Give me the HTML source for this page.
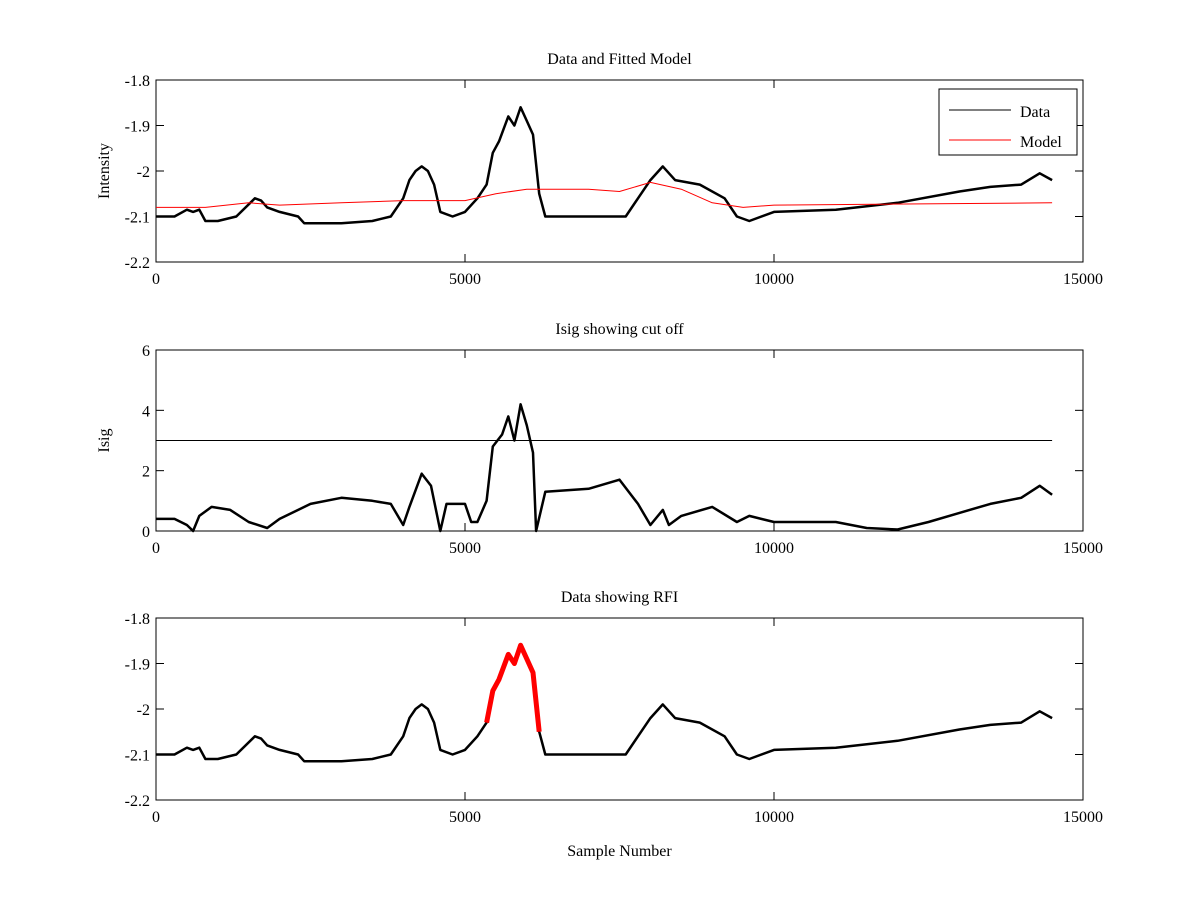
<!DOCTYPE html>
<html><head><meta charset="utf-8"><style>
html,body{margin:0;padding:0;background:#fff;}
svg{display:block;font-family:"Liberation Serif",serif;}
</style></head><body>
<svg id="fig" width="1200" height="900" viewBox="0 0 1200 900"></svg>
<script>
const dataX=[0,300,500,600,700,800,1000,1300,1600,1700,1800,2000,2300,2400,3000,3500,3800,4000,4100,4200,4300,4400,4500,4600,4800,5000,5200,5350,5450,5550,5700,5800,5900,6000,6100,6200,6300,7000,7600,7800,8000,8200,8400,8800,9200,9400,9600,10000,11000,12000,13000,13500,14000,14300,14500];
const dataY=[-2.10,-2.10,-2.085,-2.09,-2.085,-2.11,-2.11,-2.10,-2.06,-2.065,-2.08,-2.09,-2.10,-2.115,-2.115,-2.11,-2.10,-2.06,-2.02,-2.00,-1.99,-2.00,-2.03,-2.09,-2.10,-2.09,-2.06,-2.03,-1.96,-1.935,-1.88,-1.90,-1.86,-1.89,-1.92,-2.05,-2.10,-2.10,-2.10,-2.06,-2.02,-1.99,-2.02,-2.03,-2.06,-2.10,-2.11,-2.09,-2.085,-2.07,-2.045,-2.035,-2.03,-2.005,-2.02];
const modelX=[0,800,1500,2000,3000,4000,5000,5500,6000,7000,7500,8000,8500,9000,9500,10000,14500];
const modelY=[-2.08,-2.08,-2.07,-2.075,-2.07,-2.065,-2.065,-2.05,-2.04,-2.04,-2.045,-2.025,-2.04,-2.07,-2.08,-2.075,-2.07];
const isigX=[0,300,500,600,700,900,1200,1500,1800,2000,2500,3000,3500,3800,4000,4100,4300,4450,4550,4600,4700,5000,5100,5200,5350,5450,5600,5700,5800,5900,6000,6100,6150,6300,7000,7500,7800,8000,8200,8300,8500,9000,9400,9600,10000,11000,11500,12000,12500,13000,13500,14000,14300,14500];
const isigY=[0.4,0.4,0.2,0.0,0.5,0.8,0.7,0.3,0.1,0.4,0.9,1.1,1.0,0.9,0.2,0.8,1.9,1.5,0.5,0.0,0.9,0.9,0.3,0.3,1.0,2.8,3.2,3.8,3.0,4.2,3.5,2.6,0.0,1.3,1.4,1.7,0.9,0.2,0.7,0.2,0.5,0.8,0.3,0.5,0.3,0.3,0.1,0.05,0.3,0.6,0.9,1.1,1.5,1.2];
const cutoff=3;
const rfiStart=5300, rfiEnd=6200;
const xTicks=[0,5000,10000,15000];
const intTicks=[-1.8,-1.9,-2,-2.1,-2.2];
const isigTicks=[0,2,4,6];

const NS="http://www.w3.org/2000/svg";
const svg=document.getElementById('fig');
function mk(tag,attrs,parent){const e=document.createElementNS(NS,tag);for(const k in attrs)e.setAttribute(k,attrs[k]);(parent||svg).appendChild(e);return e;}
const L=156,R=1083;
function makeAxis(top,bot,ymin,ymax,name,title,ylabel,yticks){
  const g=mk('g',{});
  
  
  const sx=v=>L+(v/15000)*(R-L);
  const sy=v=>bot-(v-ymin)/(ymax-ymin)*(bot-top);
  const box=mk('rect',{x:L,y:top,width:R-L,height:bot-top,fill:'#fff',stroke:'#000','stroke-width':1},g);
  
  
  xTicks.forEach(t=>{const x=sx(t);
    mk('line',{x1:x,x2:x,y1:bot,y2:bot-8,stroke:'#000'},g);mk('line',{x1:x,x2:x,y1:top,y2:top+8,stroke:'#000'},g);
    const tx=mk('text',{x:x,y:bot+22,'text-anchor':'middle','font-size':16},g);tx.textContent=t;
    
    });
  yticks.forEach(t=>{const y=sy(t);
    mk('line',{x1:L,x2:L+8,y1:y,y2:y,stroke:'#000'},g);mk('line',{x1:R,x2:R-8,y1:y,y2:y,stroke:'#000'},g);
    const tx=mk('text',{x:L-6,y:y+6,'text-anchor':'end','font-size':16},g);tx.textContent=t;
    
    });
  const tt=mk('text',{x:(L+R)/2,y:top-16,'text-anchor':'middle','font-size':16},g);tt.textContent=title;
  
  
  if(ylabel){const yl=mk('text',{x:0,y:0,'text-anchor':'middle','font-size':16,transform:`translate(${L-47},${(top+bot)/2}) rotate(-90)`},g);yl.textContent=ylabel;
    
    }
  return {g,sx,sy};
}
function path(ax,xs,ys,color,w,name,filter){
  let d='';let first=true;
  for(let i=0;i<xs.length;i++){ if(filter&&!filter(xs[i]))continue; d+=(first?'M':'L')+ax.sx(xs[i]).toFixed(1)+','+ax.sy(ys[i]).toFixed(1);first=false;}
  const p=mk('path',{d:d,fill:'none',stroke:color,'stroke-width':w,'stroke-linejoin':'round'},ax.g);
  
  
  return p;
}
const a1=makeAxis(80,262,-2.2,-1.8,'intensity-plot','Data and Fitted Model','Intensity',intTicks);
path(a1,dataX,dataY,'#000',2.5,'data-line');
path(a1,modelX,modelY,'#f00',1,'model-line');
const lg=mk('g',{},a1.g);


mk('rect',{x:939,y:89,width:138,height:66,fill:'#fff',stroke:'#000'},lg);
mk('line',{x1:949,x2:1011,y1:110,y2:110,stroke:'#000'},lg);
mk('line',{x1:949,x2:1011,y1:140,y2:140,stroke:'#f00'},lg);
const l1=mk('text',{x:1020,y:117,'font-size':16},lg);l1.textContent='Data';


const l2=mk('text',{x:1020,y:147,'font-size':16},lg);l2.textContent='Model';



const a2=makeAxis(350,531,0,6,'isig-plot','Isig showing cut off','Isig',isigTicks);
path(a2,isigX,isigY,'#000',2.5,'isig-line');
const cl=mk('line',{x1:a2.sx(0),x2:a2.sx(14500),y1:a2.sy(cutoff),y2:a2.sy(cutoff),stroke:'#000','stroke-width':1},a2.g);



const a3=makeAxis(618,800,-2.2,-1.8,'rfi-plot','Data showing RFI','',intTicks);
path(a3,dataX,dataY,'#000',2.5,'data-line');
path(a3,dataX,dataY,'#f00',5,'rfi-segment',x=>x>=rfiStart&&x<=rfiEnd);
const xl=mk('text',{x:(L+R)/2,y:856,'text-anchor':'middle','font-size':16});xl.textContent='Sample Number';


</script>
</body></html>
